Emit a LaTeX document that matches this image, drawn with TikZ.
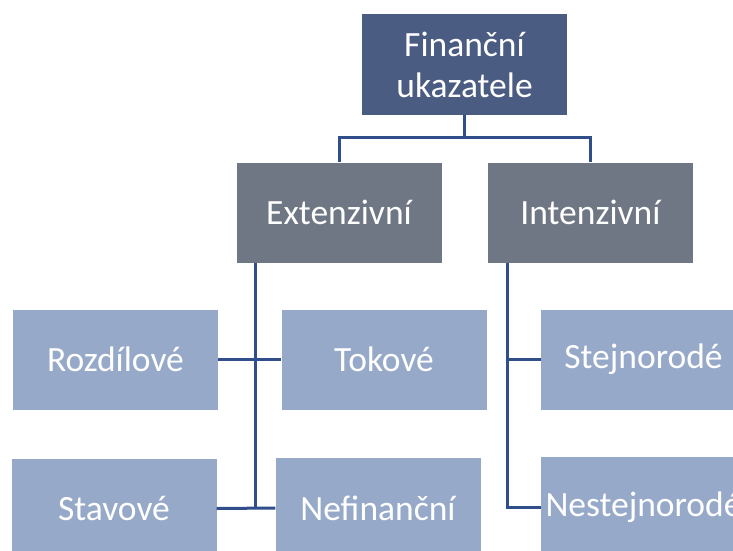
\documentclass[tikz,border=0pt]{standalone}
\usepackage{fontspec}
\setmainfont{Carlito}
\usepackage{tikz}
\usetikzlibrary{calc}

\definecolor{topblue}{HTML}{4A5C82}
\definecolor{midgray}{HTML}{6F7785}
\definecolor{leafblue}{HTML}{97A9C9}
\definecolor{linkblue}{HTML}{2F4E8A}

\tikzset{
  box/.style={rectangle, minimum width=205pt, minimum height=100pt, inner sep=0pt,
    text=white, font=\fontsize{35.5}{41}\selectfont, align=center},
  topbox/.style={box, fill=topblue},
  midbox/.style={box, fill=midgray},
  leafbox/.style={box, fill=leafblue},
  link/.style={draw=linkblue, line width=3pt}
}

\begin{document}
\begin{tikzpicture}[x=1pt, y=-1pt]
  \useasboundingbox (0,0) rectangle (733,551);
  \clip (0,0) rectangle (733,551);

  % upper levels
  \node[topbox] (fin) at (464.5,64.5) {Finanční\\ukazatele};
  \node[midbox] (ext) at (339,212.5) {Extenzivní};
  \node[midbox] (int) at (590.5,212.5) {Intenzivní};

  % leaves
  \node[leafbox] (rozd) at (115.5,359.5) {Rozdílové};
  \node[leafbox] (tok) at (384,359.5) {Tokové};
  \node[leafbox] (stav) at (114,508.5) {Stavové};
  \node[leafbox] (nefin) at (378,508) {Nefinanční};
  \node[leafbox] (stej) at (643.5,359.5) {Stejnorodé};
  \node[leafbox] (nestej) at (643.5,507) {Nestejnorodé};

  % connectors
  \coordinate (split) at (464.5,137);
  \draw[link] (fin.south) -- (split);
  \draw[link] (ext.north) |- (split) -| (int.north);

  \coordinate (extl) at ($(ext.south west)+(19,0)$);
  \draw[link] (extl) -- (extl |- nefin.west);
  \draw[link] (rozd.east) -- (tok.west);
  \draw[link] (stav.east) -- (nefin.west);

  \coordinate (intl) at ($(int.south west)+(20,0)$);
  \draw[link] (intl) |- (nestej.west);
  \draw[link] (intl |- stej.west) -- (stej.west);
\end{tikzpicture}
\end{document}
